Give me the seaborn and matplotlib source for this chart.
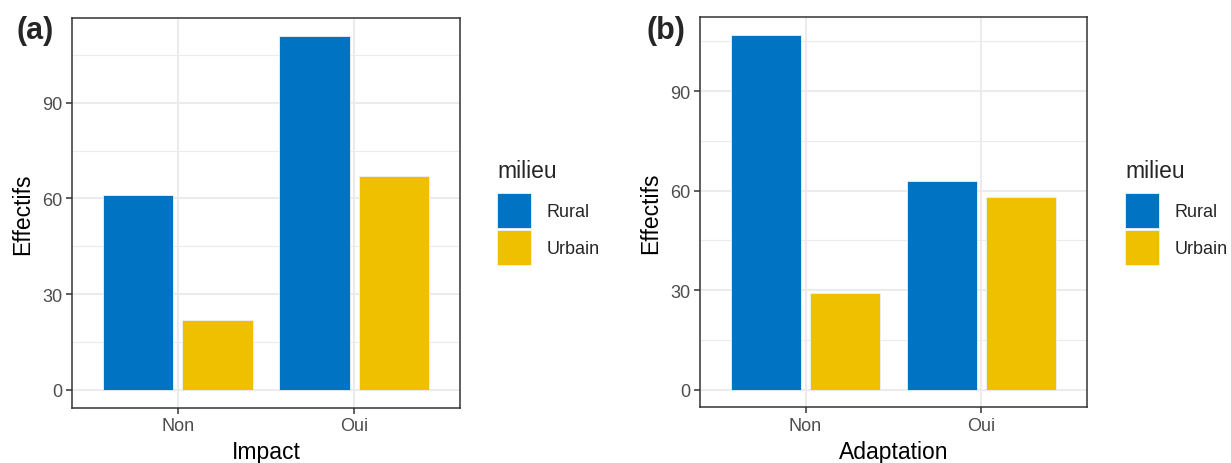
import matplotlib
matplotlib.use("Agg")
import matplotlib.pyplot as plt
import seaborn as sns
import pandas as pd
from matplotlib.ticker import MultipleLocator
from matplotlib.patches import Patch

# Data
categories_a = ["Non", "Oui"]
rural_a = [61, 111]
urbain_a = [22, 67]

categories_b = ["Non", "Oui"]
rural_b = [107, 63]
urbain_b = [29, 58]

milieux = ["Rural", "Urbain"]
colors = {"Rural": "#0073C2", "Urbain": "#EFC000"}

sns.set_theme(style="white")
plt.rcParams["font.family"] = ["Liberation Sans", "DejaVu Sans"]

def make_df(cats, rural, urbain, name):
    rows = []
    for c, r, u in zip(cats, rural, urbain):
        rows.append({name: c, "milieu": "Rural", "n": r})
        rows.append({name: c, "milieu": "Urbain", "n": u})
    return pd.DataFrame(rows)

df_a = make_df(categories_a, rural_a, urbain_a, "Impact")
df_b = make_df(categories_b, rural_b, urbain_b, "Adaptation")

W, H = 1231, 464
fig = plt.figure(figsize=(W / 100, H / 100), dpi=100)

def px_axes(left, top, right, bottom):
    return fig.add_axes([left / W, 1 - bottom / H, (right - left) / W, (bottom - top) / H])

ax_a = px_axes(72, 19, 460, 408.7)
ax_b = px_axes(700, 18, 1087, 408.3)

def draw(ax, df, name, rural, urbain):
    sns.barplot(data=df, x=name, y="n", hue="milieu", hue_order=milieux,
                palette=colors, width=0.9, gap=0.111, ax=ax,
                edgecolor="#EAF2FA", linewidth=0.6, saturation=1, legend=False,
                zorder=3)
    top = max(max(rural), max(urbain))
    ax.set_ylim(-0.05 * top, top * 1.05)
    ax.set_xlim(-0.6, 1.6)
    ax.yaxis.set_major_locator(MultipleLocator(30))
    ax.yaxis.set_minor_locator(MultipleLocator(15))
    ax.grid(which="major", color="#EBEBEB", linewidth=1.5, zorder=0)
    ax.grid(which="minor", axis="y", color="#EBEBEB", linewidth=0.8, zorder=0)
    ax.set_axisbelow(True)
    for s in ax.spines.values():
        s.set_color("#333333")
        s.set_linewidth(1.1)
    ax.tick_params(axis="both", which="major", length=4, width=1.1, color="#333333",
                   labelcolor="#4D4D4D", labelsize=13, pad=3, bottom=True, left=True)
    ax.tick_params(axis="both", which="minor", length=0)
    ax.set_xlabel(name, fontsize=16.5, color="black", labelpad=4)
    ax.set_ylabel("Effectifs", fontsize=16.5, color="black", labelpad=6)

draw(ax_a, df_a, "Impact", rural_a, urbain_a)
draw(ax_b, df_b, "Adaptation", rural_b, urbain_b)

handles = [Patch(facecolor=colors[m], edgecolor="#EAF2FA", linewidth=0.6, label=m) for m in milieux]
for lx in (497, 1125):
    fig.text(lx / W, 1 - 172 / H, "milieu", fontsize=16.5, va="center", ha="left")
    fig.legend(handles=handles, loc="upper left",
               bbox_to_anchor=(lx / W, 1 - 194 / H), bbox_transform=fig.transFigure,
               frameon=False, fontsize=13,
               handlelength=1.9, handleheight=2.6, labelspacing=0.12,
               handletextpad=0.83, borderpad=0, borderaxespad=0)

fig.text(17 / W, 1 - 31 / H, "(a)", fontsize=22, fontweight="bold", va="center", ha="left")
fig.text(646 / W, 1 - 31 / H, "(b)", fontsize=22, fontweight="bold", va="center", ha="left")

fig.savefig("out.png", dpi=100)
